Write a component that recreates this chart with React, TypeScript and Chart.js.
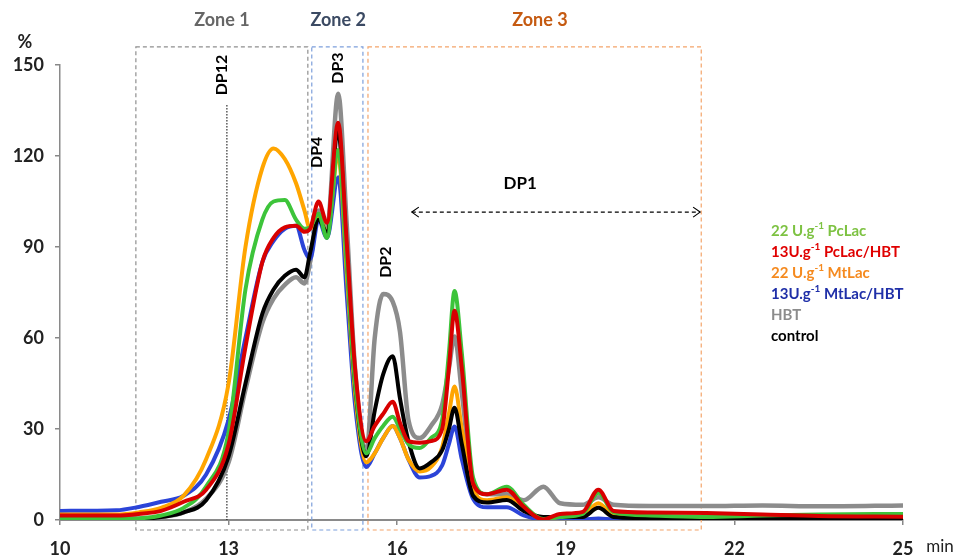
import React, { useEffect, useRef } from "react";
import { Chart, registerables } from "chart.js";
Chart.register(...registerables);

const FONT = "Lato, 'Open Sans', sans-serif";

const times = [10, 11, 11.4, 11.8, 12.2, 12.6, 13.0, 13.3, 13.6, 13.8, 14.0, 14.2, 14.35, 14.45, 14.6, 14.75, 14.95, 15.1, 15.25, 15.45, 15.6, 15.75, 15.92, 16.05, 16.2, 16.4, 16.6, 16.8, 16.92, 17.02, 17.15, 17.35, 17.6, 17.95, 18.25, 18.6, 18.9, 19.3, 19.58, 19.85, 20.5, 21.5, 22.5, 23.5, 25];

const pcLac = [0.3, 0.3, 0.5, 1.5, 4, 11, 29, 76, 99, 105, 105.5, 99, 96, 96.5, 101, 93, 122, 85, 45, 22, 27, 31, 34, 30, 25, 23.7, 27, 33, 55, 75.5, 55, 14, 8.5, 11, 5, 0.3, 1, 2, 9, 2.5, 1.5, 1, 1.5, 1.8, 2];
const pcLacHbt = [1.5, 1.5, 2, 3, 6, 10, 25, 57, 85, 93, 96.5, 97, 95, 96, 105, 98, 131, 92, 50, 26, 31, 35, 39, 32, 26, 25.5, 26, 30, 50, 69, 50, 12, 8.5, 10, 4.4, 0.2, 2, 2.7, 10, 3, 2.5, 2.3, 1.8, 1.3, 1.1];
const mtLac = [1.8, 1.8, 2.5, 4, 8, 20, 45, 90, 116, 122.5, 119, 111, 102, 96, 100, 95, 120, 82, 42, 19, 22, 27, 31, 27, 20, 16, 17.5, 24, 35, 44, 30, 10, 6.5, 7.5, 4, 0.5, 1, 1.5, 5.5, 1.5, 1, 1, 0.8, 0.8, 0.8];
const mtLacHbt = [3, 3.2, 4.3, 6, 8, 15, 33, 60, 85, 92, 96, 97, 89, 86, 99, 93, 113, 75, 38, 17.5, 22, 27, 31, 27, 20, 14, 14.5, 18, 25, 30.8, 20, 7, 4.2, 4.2, 1.5, 0.2, 0.2, 0.2, 0.5, 0.2, 0.2, 0.2, 0.2, 0.2, 0.2];
const hbt = [1, 1, 0.5, 1, 2.5, 7, 19, 43, 65, 73, 77.5, 80, 78, 85, 102, 96, 140.5, 98, 50, 22, 60, 74.5, 72, 62, 33, 27, 31, 38, 50, 60.5, 42, 12, 8.5, 8.5, 6.5, 11, 5.5, 5, 7.5, 5, 4.6, 4.6, 4.8, 4.5, 4.8];
const control = [0.5, 0.5, 0.3, 1, 2.5, 6.5, 21, 45, 68, 76, 80.5, 82.5, 80, 88, 99, 95, 128, 88, 45, 21, 36, 48, 54, 40, 26, 17, 19, 23, 30, 37, 25, 8, 5.8, 6.6, 3, 1, 1, 1, 4, 1, 0.6, 0.5, 0.3, 0.3, 0.3];

const seriesList = [
  { name: ["13U.g", "-1", " PcLac/HBT"], data: pcLacHbt, line: "#D80000", text: "#E00000", width: 4 },
  { name: ["22 U.g", "-1", " PcLac"], data: pcLac, line: "#3DC43A", text: "#7DC242", width: 4 },
  { name: ["control", "", ""], data: control, line: "#000000", text: "#000000", width: 4 },
  { name: ["22 U.g", "-1", " MtLac"], data: mtLac, line: "#FFA500", text: "#F58A1F", width: 4 },
  { name: ["13U.g", "-1", " MtLac/HBT"], data: mtLacHbt, line: "#2B44D8", text: "#1F2FA8", width: 4 },
  { name: ["HBT", "", ""], data: hbt, line: "#8C8C8C", text: "#8C8C8C", width: 4.5 },
];
const legendOrder = [1, 0, 3, 4, 5, 2];

const zones = [
  { label: "Zone 1", from: 11.35, to: 14.41, box: "#8E8E8E", text: "#666666" },
  { label: "Zone 2", from: 14.48, to: 15.39, box: "#7D9FDB", text: "#3B4A63" },
  { label: "Zone 3", from: 15.48, to: 21.41, box: "#F4A46A", text: "#C55A11" },
];
const zoneCenters = [12.88, 14.95, 18.54];
const zoneTop = 156;
const zoneBottom = -3.3;

const dpLabels = [
  { text: "DP12", x: 12.88, y: 146.7 },
  { text: "DP4", x: 14.57, y: 121.2 },
  { text: "DP3", x: 14.95, y: 149 },
  { text: "DP2", x: 15.8, y: 85 },
];

const annot = {
  id: "annot",
  beforeDatasetsDraw(chart: any) {
    const { ctx, scales } = chart;
    const x = scales.x, y = scales.y;
    ctx.save();
    ctx.lineWidth = 1.2;
    ctx.setLineDash([4, 3]);
    zones.forEach((z) => {
      ctx.strokeStyle = z.box;
      const x0 = x.getPixelForValue(z.from), x1 = x.getPixelForValue(z.to);
      const y0 = y.getPixelForValue(zoneTop), y1 = y.getPixelForValue(zoneBottom);
      ctx.strokeRect(x0, y0, x1 - x0, y1 - y0);
    });
    ctx.setLineDash([1.5, 1.5]);
    ctx.strokeStyle = "#000";
    ctx.lineWidth = 1;
    const dx = x.getPixelForValue(12.97);
    ctx.beginPath();
    ctx.moveTo(dx, y.getPixelForValue(136.8));
    ctx.lineTo(dx, y.getPixelForValue(0));
    ctx.stroke();
    ctx.restore();
  },
  afterDraw(chart: any) {
    const { ctx, scales } = chart;
    const x = scales.x, y = scales.y;
    ctx.save();
    ctx.font = `bold 18px ${FONT}`;
    ctx.textAlign = "center";
    ctx.textBaseline = "middle";
    zones.forEach((z, i) => {
      ctx.fillStyle = z.text;
      ctx.fillText(z.label, x.getPixelForValue(zoneCenters[i]), 20);
    });
    ctx.fillStyle = "#000";
    ctx.font = `bold 16px ${FONT}`;
    dpLabels.forEach((d) => {
      ctx.save();
      ctx.translate(x.getPixelForValue(d.x), y.getPixelForValue(d.y));
      ctx.rotate(-Math.PI / 2);
      ctx.fillText(d.text, 0, 0);
      ctx.restore();
    });
    ctx.font = `bold 17px ${FONT}`;
    ctx.fillText("DP1", x.getPixelForValue(18.19), y.getPixelForValue(111));
    const ax0 = x.getPixelForValue(16.26), ax1 = x.getPixelForValue(21.39), ay = y.getPixelForValue(101.5);
    ctx.strokeStyle = "#000";
    ctx.lineWidth = 1.2;
    ctx.setLineDash([4, 3]);
    ctx.beginPath();
    ctx.moveTo(ax0, ay);
    ctx.lineTo(ax1, ay);
    ctx.stroke();
    ctx.setLineDash([]);
    ctx.beginPath();
    ctx.moveTo(ax0 + 7, ay - 5); ctx.lineTo(ax0, ay); ctx.lineTo(ax0 + 7, ay + 5);
    ctx.moveTo(ax1 - 7, ay - 5); ctx.lineTo(ax1, ay); ctx.lineTo(ax1 - 7, ay + 5);
    ctx.stroke();
    ctx.fillStyle = "#222";
    ctx.font = `bold 18px ${FONT}`;
    ctx.fillText("%", 25, 42);
    ctx.font = `17px ${FONT}`;
    ctx.fillText("min", 940, 547);
    ctx.textAlign = "left";
    legendOrder.forEach((idx, row) => {
      const s = seriesList[idx];
      const ly = 231 + row * 21;
      let lx = 771;
      ctx.fillStyle = s.text;
      ctx.font = `bold 15px ${FONT}`;
      ctx.fillText(s.name[0], lx, ly);
      lx += ctx.measureText(s.name[0]).width;
      if (s.name[1]) {
        ctx.font = `bold 10px ${FONT}`;
        ctx.fillText(s.name[1], lx, ly - 5);
        lx += ctx.measureText(s.name[1]).width;
        ctx.font = `bold 15px ${FONT}`;
        ctx.fillText(s.name[2], lx, ly);
      }
    });
    ctx.restore();
  },
};

export default function App() {
  const ref = useRef<HTMLCanvasElement>(null);
  useEffect(() => {
    document.body.style.margin = "0";
    const chart = new Chart(ref.current as HTMLCanvasElement, {
      type: "line",
      data: {
        datasets: seriesList.map((s) => ({
          label: s.name.join(""),
          data: times.map((t, i) => ({ x: t, y: s.data[i] })),
          borderColor: s.line,
          backgroundColor: s.line,
          borderWidth: s.width,
          pointRadius: 0,
          cubicInterpolationMode: "monotone" as const,
          fill: false,
        })),
      },
      options: {
        animation: false,
        responsive: false,
        maintainAspectRatio: false,
        layout: { padding: { top: 65, right: 60, left: 0, bottom: 0 } },
        plugins: { legend: { display: false }, tooltip: { enabled: false } },
        scales: {
          x: {
            type: "linear",
            min: 10,
            max: 25,
            afterFit: (s: any) => { s.height = 37; },
            ticks: { stepSize: 3, font: { family: FONT, size: 18, weight: "bold" }, color: "#222", padding: 13, maxRotation: 0 },
            grid: { drawOnChartArea: false, tickLength: 5, color: "#888", lineWidth: 1.5 },
            border: { color: "#8a8a8a", width: 2 },
          },
          y: {
            min: 0,
            max: 150,
            afterFit: (s: any) => { s.width = 60; },
            ticks: { stepSize: 30, font: { family: FONT, size: 18, weight: "bold" }, color: "#222", padding: 11 },
            grid: { drawOnChartArea: false, tickLength: 5, color: "#888", lineWidth: 1.5 },
            border: { color: "#8a8a8a", width: 1.5 },
          },
        },
      },
      plugins: [annot],
    });
    return () => chart.destroy();
  }, []);
  return (
    <div style={{ width: 963, height: 557, background: "#fff" }}>
      <canvas ref={ref} width={963} height={557} style={{ width: 963, height: 557, display: "block" }} />
    </div>
  );
}
